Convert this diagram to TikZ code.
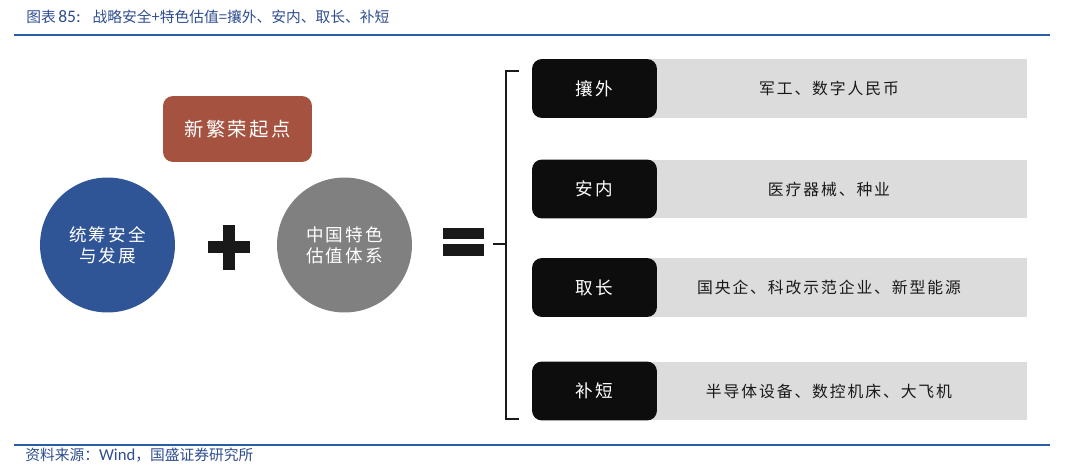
\documentclass[tikz,border=0pt]{standalone}
\usepackage{fontspec}
\setmainfont{Noto Sans CJK SC}
\newfontfamily\latinfont{Carlito}
\newfontfamily\cjkwide[LetterSpace=12]{Noto Sans CJK SC}
\usetikzlibrary{positioning}
\definecolor{gsblue}{RGB}{42,92,170}
\definecolor{gstext}{RGB}{46,77,143}
\definecolor{hubred}{RGB}{166,82,64}
\definecolor{secblue}{RGB}{47,85,151}
\definecolor{valgray}{RGB}{128,128,128}
\definecolor{bargray}{RGB}{220,220,220}
\tikzset{
  every node/.style={inner sep=0pt},
  ruleline/.style={gsblue, line width=1.1pt},
  capt/.style={anchor=west, text=gstext, font=\fontsize{8.4}{10}\selectfont},
  bigdisc/.style={circle, minimum size=2.7cm, text=white, align=center,
    font=\cjkwide\fontsize{10}{12}\selectfont},
  tagbox/.style={fill=black!95, rounded corners=0.2cm, minimum width=2.5cm,
    minimum height=1.18cm, text=white, font=\cjkwide\fontsize{10}{12}\selectfont},
  itembar/.style={fill=bargray, minimum width=7.92cm, minimum height=1.18cm,
    text=black!90, font=\cjkwide\fontsize{9}{11}\selectfont},
}

\begin{document}
\begin{tikzpicture}[x=0.02cm, y=-0.02cm]
  \useasboundingbox (0,0) rectangle (1080,476);
  % heading and source
  \node[capt] (title) at (26,17) {图表\,{\latinfont\fontsize{10}{10}\selectfont 85:}\hspace{0.8em}战略安全+特色估值=攘外、安内、取长、补短};
  \draw[ruleline] (14,35) -- (1050,35);
  \draw[ruleline] (14,445) -- (1050,445);
  \node[capt] (source) at (25,455) {资料来源：{\latinfont\fontsize{9.5}{10}\selectfont Wind}，国盛证券研究所};

  % left side
  \node[fill=hubred, rounded corners=0.2cm, minimum width=2.98cm, minimum height=1.32cm,
    text=white, font=\cjkwide\fontsize{11}{13}\selectfont] (hub) at (237.5,129) {新繁荣起点};
  \node[bigdisc, fill=secblue] (secC) at (107.5,245) {统筹安全\\与发展};
  \node[bigdisc, fill=valgray] (valC) at (344.5,245) {中国特色\\估值体系};
  \fill[black!90] (208,241) rectangle (250,253);
  \fill[black!90] (223,225) rectangle (235,270);
  \fill[black!90] (443,228) rectangle (484,239);
  \fill[black!90] (443,244) rectangle (484,256);

  % bracket
  \draw[line width=1.1pt, black!90] (519,71) -- (506,71) -- (506,419) -- (519,419);
  \draw[line width=1.1pt, black!90, rounded corners=2pt] (493,244) -- (506,244);

  % right side rows
  \node[itembar] (bar1) at (829,88.5) {军工、数字人民币};
  \node[itembar] (bar2) at (829,189) {医疗器械、种业};
  \node[itembar] (bar3) at (829,287.5) {国央企、科改示范企业、新型能源};
  \node[itembar] (bar4) at (829,391) {半导体设备、数控机床、大飞机};
  \node[tagbox] (tag1) at (594.5,88.5) {攘外};
  \node[tagbox] (tag2) at (594.5,189) {安内};
  \node[tagbox] (tag3) at (594.5,287.5) {取长};
  \node[tagbox] (tag4) at (594.5,391) {补短};
\end{tikzpicture}
\end{document}
